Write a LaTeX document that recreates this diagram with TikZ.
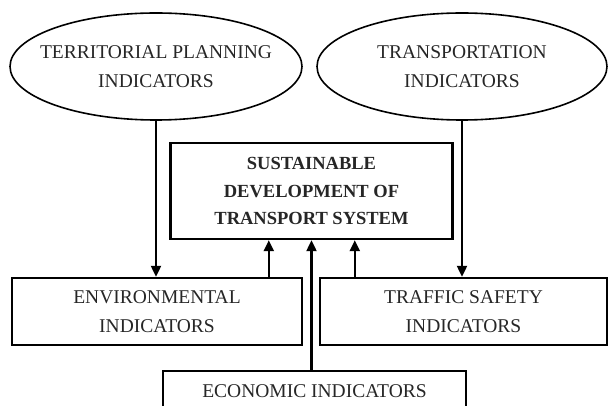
\documentclass[tikz,border=0pt]{standalone}
\usepackage{fontspec}
\setmainfont{Liberation Serif}
\usetikzlibrary{shapes.geometric,arrows.meta}
\begin{document}
\begin{tikzpicture}[x=1pt,y=-1pt,
  txt/.style={align=center,inner sep=0pt,font=\fontsize{19.5}{28.5}\selectfont,text=black!85},
  ell/.style={ellipse,draw,line width=1.6pt,inner sep=0pt},
  box/.style={txt,rectangle,draw,line width=2.4pt},
  main/.style={box,font=\fontsize{18.5}{27.5}\selectfont\bfseries},
  arr/.style={-{Triangle[length=11pt,width=10pt]},line width=2.2pt}]
\useasboundingbox (0,0) rectangle (608,406);
\clip (0,0) rectangle (608,406);
\node[ell,minimum width=292pt,minimum height=107pt] (tp) at (156,66.5) {};
\node[txt] (tpt) at (tp.center) {TERRITORIAL PLANNING\\INDICATORS};
\node[ell,minimum width=290pt,minimum height=107pt] (tr) at (462,66.5) {};
\node[txt] (trt) at (tr.center) {TRANSPORTATION\\INDICATORS};
\node[main,minimum width=282pt,minimum height=96pt] (sd) at (311.5,191) {SUSTAINABLE\\DEVELOPMENT OF\\TRANSPORT SYSTEM};
\node[box,minimum width=290pt,minimum height=67pt] (env) at (157,311.5) {ENVIRONMENTAL\\INDICATORS};
\node[box,minimum width=287pt,minimum height=67pt] (ts) at (463.5,311.5) {TRAFFIC SAFETY\\INDICATORS};
\node[box,minimum width=303pt,minimum height=40pt] (eco) at (314.5,391) {ECONOMIC INDICATORS};
\draw[arr] (tp.south) -- (tp.south |- env.north);
\draw[arr] (tr.south) -- (tr.south |- ts.north);
\draw[arr] ([xshift=258pt]env.north west) -- ([xshift=258pt]env.north west |- sd.south);
\draw[arr] (eco.north -| sd.south) -- (sd.south);
\draw[arr] ([xshift=36pt]ts.north west) -- ([xshift=36pt]ts.north west |- sd.south);
\end{tikzpicture}
\end{document}
